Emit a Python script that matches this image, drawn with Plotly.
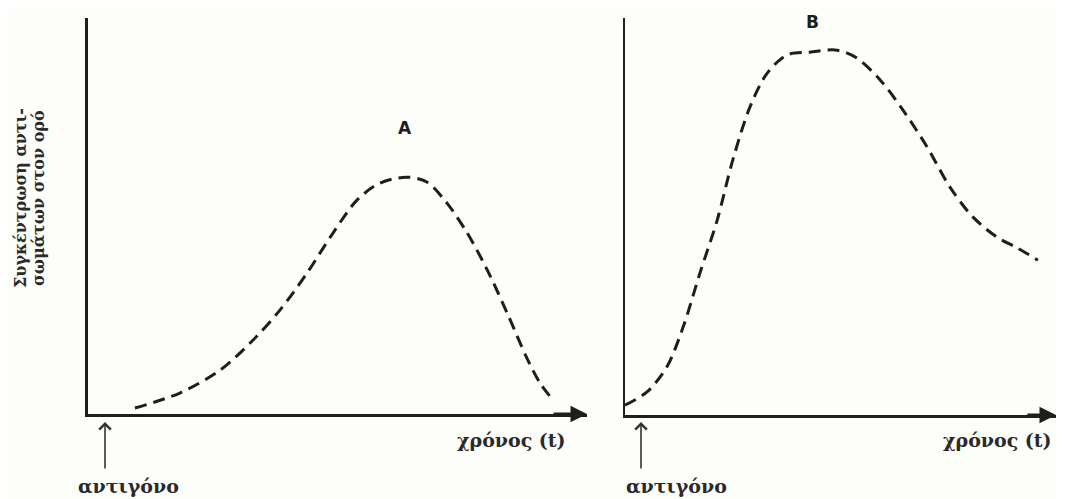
import plotly.graph_objects as go

# curve A (left panel): time vs antibody concentration, arbitrary units 0-10
time_a = [0.94, 1.84, 2.65, 3.31, 3.85, 4.39, 4.91, 5.39, 5.85, 6.39, 6.79, 7.19, 7.60, 8.00, 8.40, 8.80, 9.06, 9.32]
conc_a = [0.15, 0.53, 1.11, 1.87, 2.63, 3.56, 4.57, 5.40, 5.83, 5.98, 5.86, 5.33, 4.57, 3.64, 2.55, 1.40, 0.78, 0.35]

# curve B (right panel)
time_b = [0.0, 0.51, 0.97, 1.35, 1.74, 2.14, 2.50, 2.90, 3.30, 3.76, 4.29, 4.92, 5.38, 5.92, 6.45, 7.01, 7.54, 8.07, 8.63, 9.10, 9.58]
conc_b = [0.25, 0.58, 1.21, 2.22, 3.58, 4.91, 6.42, 7.76, 8.61, 9.07, 9.14, 9.19, 8.99, 8.44, 7.68, 6.75, 5.74, 4.99, 4.48, 4.21, 3.90]

y_title = ["Συγκέντρωση αντι-", "σωμάτων στον ορό"]
x_title = "χρόνος (t)"
antigen = "αντιγόνο"
curve_names = ["A", "B"]

# the page body keeps its default 8px margin, so the figure starts 8px in
OFF = 8
W, H = 1065 - 2 * OFF, 499 - OFF
ink = "#1e1e1e"
serif = "DejaVu Serif"


def px(v):
    return (v - OFF) / W


def py(v):
    return 1 - (v - OFF) / H


fig = go.Figure()

fig.add_trace(go.Scatter(x=time_a, y=conc_a, mode="lines", line_shape="spline",
                         line=dict(color=ink, width=3, dash="12px,7px", smoothing=0.9),
                         xaxis="x", yaxis="y", cliponaxis=False, showlegend=False))
fig.add_trace(go.Scatter(x=time_b, y=conc_b, mode="lines", line_shape="spline",
                         line=dict(color=ink, width=3, dash="12px,7px", smoothing=0.9),
                         xaxis="x2", yaxis="y2", cliponaxis=False, showlegend=False))

axis_common = dict(range=[0, 10], showgrid=False, zeroline=False, showticklabels=False,
                   ticks="", showline=True, linecolor=ink, fixedrange=True)

fig.update_layout(
    width=W, height=H,
    margin=dict(l=0, r=0, t=0, b=0),
    paper_bgcolor="#fdfdf9", plot_bgcolor="rgba(0,0,0,0)",
    xaxis=dict(domain=[px(88), px(587)], anchor="y", linewidth=3, **axis_common),
    yaxis=dict(domain=[py(414), py(18)], anchor="x", linewidth=3, **axis_common),
    xaxis2=dict(domain=[px(625), px(1056)], anchor="y2", linewidth=3, **axis_common),
    yaxis2=dict(domain=[py(415), py(18)], anchor="x2", linewidth=2, **axis_common),
)

annotations = []
# arrowheads at the end of the time axes
for xr, yr in [("x", "y"), ("x2", "y2")]:
    annotations.append(dict(x=10, y=0, ax=9.3, ay=0, xref=xr, yref=yr, axref=xr, ayref=yr,
                            text="", showarrow=True, arrowhead=2, arrowsize=1.1,
                            arrowwidth=3, arrowcolor=ink, standoff=0))


def label(text, cx, cy, size, family=serif, angle=0, color="#2a2a2a"):
    return dict(x=px(cx), y=py(cy), xref="paper", yref="paper", xanchor="center",
                yanchor="middle", text=text, textangle=angle, showarrow=False,
                font=dict(family=family, size=size, color=color))


# antigen arrows and labels
for ax_x, label_x in [(105, 128), (641, 676)]:
    annotations.append(dict(x=px(ax_x), y=py(422), xref="paper", yref="paper",
                            ax=0, ay=48, text="", showarrow=True, arrowhead=4,
                            arrowsize=1.4, arrowwidth=1.6, arrowcolor="#333"))
    annotations.append(label("<b>" + antigen + "</b>", label_x, 486, 19))

for cx in [511, 997]:
    annotations.append(label("<b>" + x_title + "</b>", cx, 440, 19))

# y-axis title, two rotated lines
for line, cx in zip(y_title, [21, 39]):
    annotations.append(label("<b>" + line + "</b>", cx, 198, 16, angle=-90))

# curve names
for name, (cx, cy) in zip(curve_names, [(405, 128), (812, 22)]):
    annotations.append(label("<b>" + name + "</b>", cx, cy, 17, family="DejaVu Sans", color=ink))

fig.update_layout(annotations=annotations)

fig.write_html("out.html")
